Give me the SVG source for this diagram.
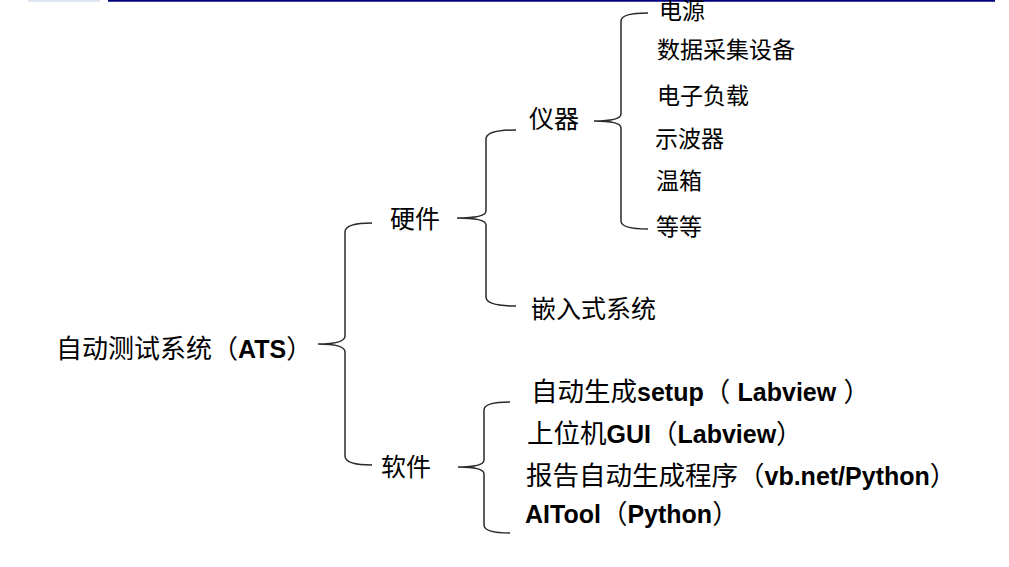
<svg xmlns="http://www.w3.org/2000/svg" width="1009" height="567" viewBox="0 0 1009 567">
<style>
text{font-family:"Liberation Sans","Noto Sans CJK SC",sans-serif;fill:#000;}
.m{font-size:26px;}
.l{font-size:25px;}
.s{font-size:23px;}
.sw{font-size:26.5px;}
.b{font-weight:bold;font-size:25px;}
.br{fill:none;stroke:#2a2a2a;stroke-width:1.5;}
</style>
<rect x="0" y="0" width="1009" height="567" fill="#fff"/>
<rect x="28" y="0" width="72" height="2" fill="#dfe7f3"/>
<line x1="108" y1="0.8" x2="995" y2="0.8" stroke="#000080" stroke-width="1.8"/>
<g id="connectors">
<path class="br" d="M372,223 Q345,223 345,232 L345,336 Q345,344 318,344 Q345,344 345,352 L345,456 Q345,465 372,465"/>
<path class="br" d="M516,130 Q486,130 486,139 L486,211 Q486,218 457,218 Q486,218 486,225 L486,297 Q486,306 516,306"/>
<path class="br" d="M648,13 Q621,13 621,21 L621,114 Q621,121 594,121 Q621,121 621,128 L621,221 Q621,229 648,229"/>
<path class="br" d="M510,402 Q484,402 484,410 L484,460 Q484,467 458,467 Q484,467 484,474 L484,525 Q484,533 510,533"/>
</g>
<g id="ats"><text class="m" x="56" y="358">自动测试系统（<tspan class="b">ATS</tspan>）</text></g>
<g id="hardware"><text class="l" x="390" y="228">硬件</text></g>
<g id="software"><text class="l" x="381" y="476">软件</text></g>
<g id="instrument"><text class="l" x="529" y="128">仪器</text></g>
<g id="embedded"><text class="l" x="531" y="318">嵌入式系统</text></g>
<g id="power"><text class="s" x="659" y="19">电源</text></g>
<g id="daq"><text class="s" x="657" y="58">数据采集设备</text></g>
<g id="eload"><text class="s" x="657" y="104">电子负载</text></g>
<g id="scope"><text class="s" x="655" y="147">示波器</text></g>
<g id="chamber"><text class="s" x="656" y="189">温箱</text></g>
<g id="etc"><text class="s" x="656" y="235">等等</text></g>
<g id="setup"><text class="sw" x="531" y="401">自动生成<tspan class="b">setup</tspan>（ <tspan class="b">Labview</tspan> ）</text></g>
<g id="gui"><text class="sw" x="527" y="443">上位机<tspan class="b">GUI</tspan>（<tspan class="b">Labview</tspan>）</text></g>
<g id="report"><text class="sw" x="526" y="485">报告自动生成程序（<tspan class="b">vb.net/Python</tspan>）</text></g>
<g id="aitool"><text class="sw" x="525" y="523"><tspan class="b">AITool</tspan>（<tspan class="b">Python</tspan>）</text></g>
</svg>
